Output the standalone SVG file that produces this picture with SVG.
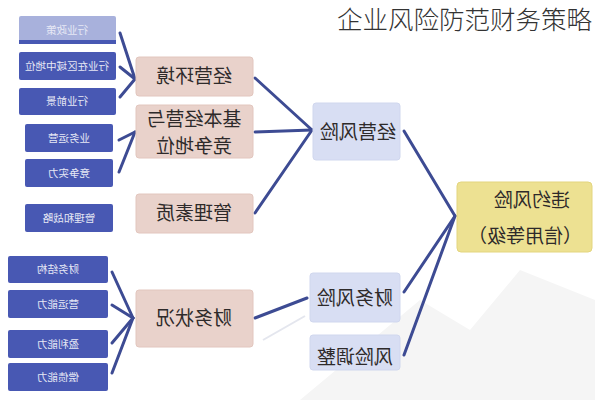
<svg xmlns="http://www.w3.org/2000/svg" width="595" height="400" viewBox="0 0 595 400">
<style>
.b{fill:#4858b3;}
.bt{font-family:"Noto Sans CJK SC","Noto Sans",sans-serif;font-size:10.5px;fill:#e6e8f5;text-anchor:middle;}
.p{fill:#e9d2cb;stroke:#e2c6be;stroke-width:1;}
.pt{font-family:"Noto Sans CJK SC",sans-serif;font-size:19px;fill:#2e2a2a;text-anchor:middle;}
.l{fill:#d8def3;stroke:#d0d7ee;stroke-width:1;}
.y{fill:#ede192;stroke:#e3d57e;stroke-width:1;}
.c line{stroke:#3d4b93;stroke-width:3;stroke-linecap:round;}
</style>
<rect width="595" height="400" fill="#ffffff"/>
<path d="M300 400 L420 300 L470 330 L520 270 L595 300 L595 400 Z" fill="#f5f5f5"/>
<text x="337" y="29" font-family="'Noto Sans CJK SC',sans-serif" font-size="25.5" font-weight="300" fill="#333">企业风险防范财务策略</text>

<g class="c" id="connectors">
<line x1="120" y1="33" x2="135" y2="79"/>
<line x1="120" y1="67" x2="135" y2="79"/>
<line x1="120" y1="97" x2="135" y2="79"/>
<line x1="119" y1="140" x2="135" y2="132"/>
<line x1="119" y1="172" x2="135" y2="132"/>
<line x1="112" y1="272" x2="133" y2="318"/>
<line x1="112" y1="305" x2="133" y2="318"/>
<line x1="112" y1="343" x2="133" y2="318"/>
<line x1="112" y1="373" x2="133" y2="318"/>
<line x1="255" y1="78" x2="312" y2="130"/>
<line x1="255" y1="132" x2="312" y2="130"/>
<line x1="255" y1="213" x2="312" y2="130"/>
<line x1="255" y1="318" x2="307" y2="298"/>
<line x1="404" y1="131" x2="455" y2="216"/>
<line x1="404" y1="292" x2="455" y2="216"/>
<line x1="404" y1="355" x2="455" y2="216"/>
</g>
<line x1="263" y1="340" x2="305" y2="316" stroke="#e4e6ee" stroke-width="2"/>

<g id="n1"><rect x="19" y="16" width="97" height="28" rx="2" fill="#a8b1dc"/><rect x="19" y="40" width="97" height="4" fill="#4858b3"/><text class="bt" transform="translate(67,34) scale(-1,1)">行业政策</text></g>
<g id="n2"><rect class="b" x="19" y="52" width="97" height="28" rx="2"/><text class="bt" transform="translate(67,70) scale(-1,1)">行业在区域中地位</text></g>
<g id="n3"><rect class="b" x="19" y="88" width="97" height="27" rx="2"/><text class="bt" transform="translate(67,105) scale(-1,1)">行业前景</text></g>
<g id="n4"><rect class="b" x="25" y="124" width="88" height="28" rx="2"/><text class="bt" transform="translate(69,142) scale(-1,1)">业务运营</text></g>
<g id="n5"><rect class="b" x="25" y="159" width="88" height="28" rx="2"/><text class="bt" transform="translate(69,177) scale(-1,1)">竞争实力</text></g>
<g id="n6"><rect class="b" x="25" y="204" width="88" height="28" rx="2"/><text class="bt" transform="translate(69,222) scale(-1,1)">管理和战略</text></g>
<g id="n7"><rect class="b" x="8" y="256" width="100" height="27" rx="2"/><text class="bt" transform="translate(58,273) scale(-1,1)">财务结构</text></g>
<g id="n8"><rect class="b" x="8" y="290" width="100" height="28" rx="2"/><text class="bt" transform="translate(58,308) scale(-1,1)">营运能力</text></g>
<g id="n9"><rect class="b" x="8" y="330" width="100" height="28" rx="2"/><text class="bt" transform="translate(58,348) scale(-1,1)">盈利能力</text></g>
<g id="n10"><rect class="b" x="8" y="363" width="100" height="28" rx="2"/><text class="bt" transform="translate(58,381) scale(-1,1)">偿债能力</text></g>

<g id="p1"><rect class="p" x="136" y="57" width="117" height="39" rx="3"/><text class="pt" transform="translate(194,83) scale(-1,1)">经营环境</text></g>
<g id="p2"><rect class="p" x="136" y="105" width="117" height="53" rx="3"/><text class="pt" transform="translate(194,126) scale(-1,1)">基本经营与</text><text class="pt" transform="translate(194,153) scale(-1,1)">竞争地位</text></g>
<g id="p3"><rect class="p" x="136" y="194" width="117" height="39" rx="3"/><text class="pt" transform="translate(194,220) scale(-1,1)">管理素质</text></g>
<g id="p4"><rect class="p" x="136" y="290" width="117" height="57" rx="3"/><text class="pt" transform="translate(194,325) scale(-1,1)">财务状况</text></g>

<g id="r1"><rect class="l" x="313" y="103" width="87" height="57" rx="3"/><text class="pt" transform="translate(358,139) scale(-1,1)">经营风险</text></g>
<g id="r2"><rect class="l" x="310" y="273" width="90" height="49" rx="3"/><text class="pt" transform="translate(355,305) scale(-1,1)">财务风险</text></g>
<g id="r3"><rect class="l" x="310" y="335" width="90" height="35" rx="3"/><text class="pt" transform="translate(355,364) scale(-1,1)">风险调整</text></g>

<g id="y1"><rect class="y" x="457" y="182" width="135" height="70" rx="4"/><text class="pt" font-size="24" transform="translate(532,207) scale(-1,1)">违约风险</text><text class="pt" font-size="20" transform="translate(525,243) scale(-1,1)">（信用等级）</text></g>
</svg>
